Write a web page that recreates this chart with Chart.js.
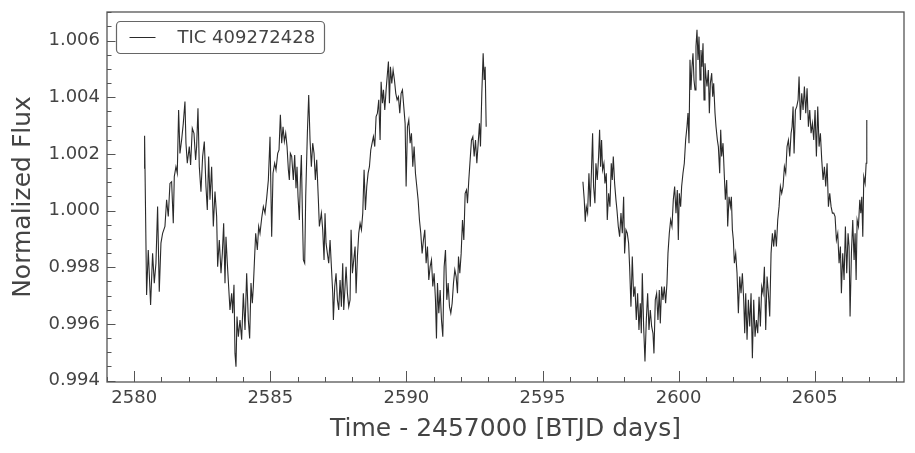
<!DOCTYPE html>
<html>
<head>
<meta charset="utf-8">
<title>TIC 409272428 light curve</title>
<script src="https://cdn.jsdelivr.net/npm/chart.js@4.4.1/dist/chart.umd.min.js"></script>
<style>
  html, body { margin: 0; padding: 0; background: #fff; }
  canvas { display: block; }
</style>
</head>
<body>
<canvas id="lightcurve" width="915" height="453"></canvas>
<script>
const targetName = 'TIC 409272428';

// first orbit (BTJD)
const orbit1Time = [
  2580.369,2580.381,2580.455,2580.516,2580.602,2580.675,2580.737,2580.798,2580.859,2580.920,
  2580.982,2581.043,2581.129,2581.190,2581.251,2581.313,2581.374,2581.435,2581.472,2581.533,
  2581.582,2581.631,2581.680,2581.741,2581.803,2581.864,2581.901,2581.950,2582.023,2582.072,
  2582.133,2582.195,2582.256,2582.293,2582.342,2582.391,2582.452,2582.513,2582.575,2582.636,
  2582.685,2582.734,2582.783,2582.844,2582.906,2582.967,2583.028,2583.065,2583.126,2583.188,
  2583.237,2583.286,2583.335,2583.371,2583.420,2583.469,2583.518,2583.580,2583.616,2583.665,
  2583.702,2583.739,2583.776,2583.825,2583.886,2583.947,2584.009,2584.070,2584.131,2584.192,
  2584.241,2584.290,2584.339,2584.376,2584.413,2584.462,2584.523,2584.572,2584.621,2584.682,
  2584.744,2584.805,2584.866,2584.928,2584.989,2585.050,2585.099,2585.160,2585.209,2585.271,
  2585.320,2585.369,2585.418,2585.467,2585.516,2585.565,2585.614,2585.663,2585.699,2585.736,
  2585.785,2585.846,2585.895,2585.944,2585.981,2586.018,2586.067,2586.104,2586.141,2586.178,
  2586.214,2586.263,2586.300,2586.361,2586.410,2586.459,2586.508,2586.557,2586.606,2586.655,
  2586.704,2586.765,2586.802,
  2586.876,2586.925,2586.974,2587.010,2587.047,2587.096,2587.145,2587.195,2587.244,2587.293,
  2587.317,2587.366,2587.415,2587.464,2587.513,2587.562,2587.611,2587.660,2587.697,2587.746,
  2587.783,2587.832,2587.881,2587.930,2587.967,2588.016,2588.065,2588.114,2588.151,2588.200,
  2588.249,2588.298,2588.347,2588.396,2588.445,2588.494,2588.543,2588.592,2588.641,2588.690,
  2588.739,2588.788,2588.837,2588.886,2588.935,2588.984,2589.033,2589.070,2589.119,2589.156,
  2589.205,2589.254,2589.303,2589.339,2589.376,2589.413,2589.462,2589.511,2589.560,2589.609,
  2589.658,2589.707,2589.756,2589.805,2589.854,2589.903,2589.952,2589.989,2590.038,2590.087,
  2590.136,2590.185,2590.234,2590.283,2590.332,2590.381,2590.430,2590.479,2590.528,2590.577,
  2590.626,2590.675,2590.724,2590.773,2590.822,2590.871,2590.920,2590.969,2591.018,2591.067,
  2591.104,2591.141,2591.190,2591.239,2591.288,2591.337,2591.386,2591.435,2591.484,2591.533,
  2591.582,2591.631,2591.680,2591.729,2591.778,2591.827,2591.876,2591.913,2591.962,2592.011,
  2592.060,2592.109,2592.158,2592.207,2592.243,2592.292,2592.341,2592.390,2592.440,2592.489,
  2592.538,2592.587,2592.636,2592.685,2592.721,2592.770,2592.819,2592.856,2592.893,2592.930
];
const orbit1Flux = [
  1.00149,1.00264,0.99702,0.99861,0.99667,0.99849,0.99744,0.99814,1.00014,0.99714,
  0.99885,0.99920,0.99944,1.00038,0.99979,1.00096,1.00102,0.99955,1.00120,1.00155,
  1.00132,1.00355,1.00202,1.00249,1.00308,1.00385,1.00238,1.00167,1.00226,1.00161,
  1.00291,1.00273,1.00179,1.00226,1.00361,1.00155,1.00067,1.00191,1.00244,1.00085,
  1.00002,1.00191,1.00038,1.00155,0.99944,1.00067,0.99979,0.99802,0.99896,0.99779,
  0.99849,0.99955,0.99744,0.99908,0.99814,0.99732,0.99649,0.99708,0.99638,0.99738,
  0.99496,0.99449,0.99626,0.99555,0.99614,0.99544,0.99708,0.99579,0.99779,0.99614,
  0.99549,0.99744,0.99673,0.99732,0.99814,0.99920,0.99861,0.99944,0.99920,0.99973,
  1.00014,0.99991,1.00044,1.00108,1.00261,0.99908,1.00132,1.00167,1.00144,1.00202,
  1.00214,1.00338,1.00238,1.00296,1.00244,1.00273,1.00226,1.00144,1.00108,1.00202,
  1.00191,1.00108,1.00196,1.00079,1.00155,1.00049,0.99967,1.00108,1.00196,0.99991,
  0.99826,0.99814,1.00049,1.00273,1.00408,1.00249,1.00155,1.00238,1.00202,1.00108,
  1.00179,1.00038,0.99944,
  0.99991,0.99932,0.99826,0.99991,0.99885,0.99849,0.99814,0.99896,0.99802,0.99708,
  0.99614,0.99732,0.99779,0.99685,0.99649,0.99755,0.99661,0.99814,0.99649,0.99732,
  0.99802,0.99708,0.99661,0.99685,0.99932,0.99779,0.99826,0.99873,0.99708,0.99838,
  0.99920,0.99955,0.99932,0.99991,1.00144,1.00002,1.00085,1.00132,1.00155,1.00214,
  1.00238,1.00261,1.00226,1.00332,1.00344,1.00391,1.00249,1.00455,1.00379,1.00426,
  1.00355,1.00426,1.00485,1.00526,1.00379,1.00508,1.00449,1.00496,1.00461,1.00414,
  1.00391,1.00402,1.00344,1.00414,1.00426,1.00367,1.00308,1.00085,1.00296,1.00320,
  1.00238,1.00273,1.00155,1.00226,1.00132,1.00085,1.00038,0.99967,0.99920,0.99849,
  0.99896,0.99932,0.99814,0.99873,0.99755,0.99802,0.99826,0.99732,0.99779,0.99685,
  0.99549,0.99744,0.99638,0.99720,0.99614,0.99555,0.99802,0.99861,0.99685,0.99744,
  0.99661,0.99638,0.99673,0.99744,0.99791,0.99767,0.99708,0.99838,0.99779,0.99849,
  0.99967,0.99896,1.00061,1.00073,1.00026,1.00108,1.00179,1.00249,1.00261,1.00191,
  1.00249,1.00167,1.00238,1.00308,1.00226,1.00414,1.00555,1.00461,1.00508,1.00296
];

// second orbit (BTJD)
const orbit2Time = [
  2596.484,2596.533,2596.570,2596.607,2596.656,2596.705,2596.754,2596.803,2596.840,2596.876,
  2596.925,2596.962,2597.011,2597.060,2597.097,2597.134,2597.170,2597.207,2597.256,2597.293,
  2597.342,2597.379,2597.428,2597.477,2597.526,2597.563,2597.600,2597.649,2597.698,2597.735,
  2597.784,2597.833,2597.882,2597.931,2597.980,2598.016,2598.065,2598.114,2598.163,2598.200,
  2598.249,2598.298,2598.347,2598.396,2598.445,2598.494,2598.543,2598.592,2598.629,2598.666,
  2598.715,2598.764,2598.813,2598.862,2598.911,2598.960,2599.009,2599.058,2599.094,2599.143,
  2599.192,2599.241,2599.290,2599.327,2599.376,2599.425,2599.474,2599.523,2599.572,2599.609,
  2599.658,2599.707,2599.756,2599.805,2599.854,2599.903,2599.952,2599.989,2600.025,2600.074,
  2600.111,2600.160,2600.209,2600.258,2600.307,2600.344,2600.381,2600.418,2600.454,2600.491,
  2600.528,2600.565,2600.602,2600.638,2600.675,2600.712,2600.749,2600.786,2600.822,2600.859,
  2600.896,2600.933,2600.969,2601.006,2601.043,2601.092,2601.129,2601.166,2601.215,2601.252,
  2601.288,2601.337,2601.374,2601.423,2601.460,2601.509,2601.546,
  2601.582,2601.631,2601.680,2601.717,2601.766,2601.803,2601.852,2601.901,2601.938,2601.975,
  2602.011,2602.048,2602.097,2602.146,2602.195,2602.244,2602.293,2602.342,2602.391,2602.428,
  2602.465,2602.514,2602.563,2602.612,2602.661,2602.710,2602.759,2602.808,2602.857,2602.906,
  2602.955,2603.004,2603.053,2603.102,2603.151,2603.200,2603.249,2603.298,2603.347,2603.396,
  2603.445,2603.494,2603.543,2603.592,2603.641,2603.690,2603.739,2603.788,2603.837,2603.886,
  2603.935,2603.984,2604.033,2604.082,2604.131,2604.168,2604.205,2604.242,2604.291,2604.340,
  2604.389,2604.425,2604.474,2604.523,2604.572,2604.621,2604.670,2604.719,2604.768,2604.817,
  2604.866,2604.915,2604.964,2605.013,2605.062,2605.111,2605.160,2605.209,2605.258,2605.307,
  2605.356,2605.405,2605.454,2605.503,2605.552,2605.601,2605.650,2605.699,2605.748,2605.797,
  2605.846,2605.895,2605.944,2605.980,2606.029,2606.078,2606.127,2606.176,2606.225,2606.262,
  2606.299,2606.348,2606.397,2606.446,2606.484,2606.521,2606.558,2606.607,2606.656,2606.693,
  2606.729,2606.766,2606.803,2606.852,2606.889,2606.913
];
const orbit2Flux = [
  1.00102,1.00038,0.99961,1.00014,0.99991,1.00132,1.00014,1.00155,1.00273,1.00085,
  1.00026,1.00167,1.00108,1.00191,1.00285,1.00155,1.00249,1.00144,1.00167,1.00096,
  1.00132,0.99967,1.00061,1.00014,1.00167,1.00108,1.00191,1.00096,1.00038,1.00002,
  0.99944,0.99908,0.99991,0.99920,1.00049,0.99849,0.99932,0.99920,0.99885,0.99802,
  0.99661,0.99838,0.99696,0.99732,0.99614,0.99708,0.99579,0.99673,0.99567,0.99779,
  0.99591,0.99467,0.99614,0.99708,0.99579,0.99649,0.99591,0.99567,0.99496,0.99685,
  0.99708,0.99614,0.99720,0.99602,0.99732,0.99685,0.99732,0.99673,0.99744,0.99849,
  0.99920,0.99967,0.99944,1.00038,1.00085,0.99991,1.00073,0.99896,1.00061,1.00014,
  1.00085,1.00132,1.00167,1.00249,1.00296,1.00344,1.00238,1.00532,1.00426,1.00508,
  1.00555,1.00461,1.00426,1.00579,1.00638,1.00532,1.00614,1.00461,1.00567,1.00508,
  1.00591,1.00391,1.00520,1.00473,1.00438,1.00496,1.00344,1.00449,1.00485,1.00402,
  1.00449,1.00344,1.00296,1.00249,1.00226,1.00132,1.00285,
  1.00191,1.00238,1.00120,1.00038,1.00108,0.99944,1.00049,1.00014,1.00049,0.99932,
  0.99896,0.99814,0.99849,0.99779,0.99638,0.99767,0.99708,0.99779,0.99685,0.99567,
  0.99708,0.99544,0.99685,0.99591,0.99708,0.99479,0.99685,0.99555,0.99614,0.99567,
  0.99696,0.99591,0.99732,0.99708,0.99802,0.99579,0.99767,0.99708,0.99626,0.99849,
  0.99920,0.99873,0.99932,0.99873,0.99967,1.00014,1.00085,1.00061,1.00085,1.00155,
  1.00132,1.00226,1.00249,1.00191,1.00273,1.00296,1.00367,1.00202,1.00355,1.00367,
  1.00391,1.00473,1.00320,1.00414,1.00355,1.00438,1.00344,1.00432,1.00296,1.00355,
  1.00273,1.00308,1.00249,1.00355,1.00191,1.00367,1.00226,1.00273,1.00179,1.00108,
  1.00155,1.00085,1.00167,1.00014,1.00061,1.00014,0.99991,0.99991,0.99979,0.99896,
  0.99920,0.99814,0.99873,0.99708,0.99849,0.99755,0.99944,0.99779,0.99920,0.99873,
  0.99626,0.99849,0.99967,0.99826,0.99920,0.99755,0.99967,0.99944,1.00038,0.99991,
  1.00049,0.99908,1.00120,1.00096,1.00167,1.00320
];

const timeRange = [2579.0, 2608.28];
const fluxRange = [0.99395, 1.00701];
const xTickStep = 5;
const yTickStep = 0.002;

const FONT = '"DejaVu Sans", "Liberation Sans", sans-serif';
const TEXT = '#444444';
const FRAME = '#555555';
const LINE = '#2a2a2a';

function buildPoints() {
  const pts = orbit1Time.map((t, i) => ({x: t, y: orbit1Flux[i]}));
  // break the line across the data gap
  pts.push({x: (orbit1Time[orbit1Time.length - 1] + orbit2Time[0]) / 2, y: null});
  orbit2Time.forEach((t, i) => pts.push({x: t, y: orbit2Flux[i]}));
  return pts;
}

// matplotlib-like frame, inward ticks and boxed legend
const axisDecor = {
  id: 'axisDecor',
  afterDraw(chart) {
    const {ctx, chartArea: a, scales: {x, y}} = chart;
    ctx.save();
    ctx.strokeStyle = FRAME;
    ctx.lineWidth = 1;

    for (let d = Math.ceil(x.min); d <= x.max; d++) {
      const px = Math.round(x.getPixelForValue(d)) + 0.5;
      const len = d % xTickStep === 0 ? 11 : 5;
      ctx.beginPath();
      ctx.moveTo(px, a.bottom);
      ctx.lineTo(px, a.bottom - len);
      ctx.stroke();
    }
    const k0 = Math.ceil(y.min / 0.0005 - 1e-6);
    const k1 = Math.floor(y.max / 0.0005 + 1e-6);
    for (let k = k0; k <= k1; k++) {
      const py = Math.round(y.getPixelForValue(k * 0.0005)) + 0.5;
      const len = k % 4 === 0 ? 8.5 : 4.5;
      ctx.beginPath();
      ctx.moveTo(a.left, py);
      ctx.lineTo(a.left + len, py);
      ctx.stroke();
    }

    ctx.lineWidth = 1.3;
    ctx.strokeRect(a.left, a.top, a.right - a.left, a.bottom - a.top);

    // legend
    const lx = a.left + 9.5, ly = a.top + 9.5, lw = 208, lh = 32;
    ctx.beginPath();
    ctx.roundRect(lx, ly, lw, lh, 4);
    ctx.fillStyle = 'rgba(255,255,255,0.85)';
    ctx.fill();
    ctx.strokeStyle = '#666666';
    ctx.lineWidth = 1.2;
    ctx.stroke();

    const ds = chart.data.datasets[0];
    ctx.strokeStyle = ds.borderColor;
    ctx.lineWidth = 1;
    ctx.beginPath();
    ctx.moveTo(lx + 13, ly + lh / 2);
    ctx.lineTo(lx + 39, ly + lh / 2);
    ctx.stroke();

    ctx.fillStyle = TEXT;
    ctx.font = '18px ' + FONT;
    ctx.textBaseline = 'middle';
    ctx.textAlign = 'left';
    ctx.fillText(ds.label, lx + 61, ly + lh / 2 + 1);
    ctx.restore();
  }
};

Chart.defaults.font.family = FONT;

new Chart(document.getElementById('lightcurve').getContext('2d'), {
  type: 'line',
  data: {
    datasets: [{
      label: targetName,
      data: buildPoints(),
      borderColor: LINE,
      borderWidth: 1.1,
      pointRadius: 0,
      tension: 0,
      spanGaps: false
    }]
  },
  options: {
    responsive: false,
    animation: false,
    devicePixelRatio: 1,
    layout: {padding: {left: 0, right: 11, top: 12, bottom: 0}},
    plugins: {legend: {display: false}, tooltip: {enabled: false}},
    scales: {
      x: {
        type: 'linear',
        min: timeRange[0],
        max: timeRange[1],
        grid: {display: false, drawTicks: false},
        border: {display: false},
        ticks: {
          stepSize: xTickStep,
          includeBounds: false,
          maxRotation: 0,
          padding: 6,
          color: TEXT,
          font: {size: 18},
          callback: v => v.toFixed(0)
        },
        title: {
          display: true,
          text: 'Time - 2457000 [BTJD days]',
          color: TEXT,
          font: {size: 25},
          padding: {top: 0, bottom: 9}
        },
        afterFit: s => { s.height = 71; s.paddingLeft = 0; s.paddingRight = 0; }
      },
      y: {
        type: 'linear',
        min: fluxRange[0],
        max: fluxRange[1],
        grid: {display: false, drawTicks: false},
        border: {display: false},
        ticks: {
          stepSize: yTickStep,
          includeBounds: false,
          padding: 7,
          color: TEXT,
          font: {size: 18},
          callback: v => v.toFixed(3)
        },
        title: {
          display: true,
          text: 'Normalized Flux',
          color: TEXT,
          font: {size: 25},
          padding: {top: 8, bottom: 0}
        },
        afterFit: s => { s.width = 107; s.paddingTop = 0; s.paddingBottom = 0; }
      }
    }
  },
  plugins: [axisDecor]
});
</script>
</body>
</html>
